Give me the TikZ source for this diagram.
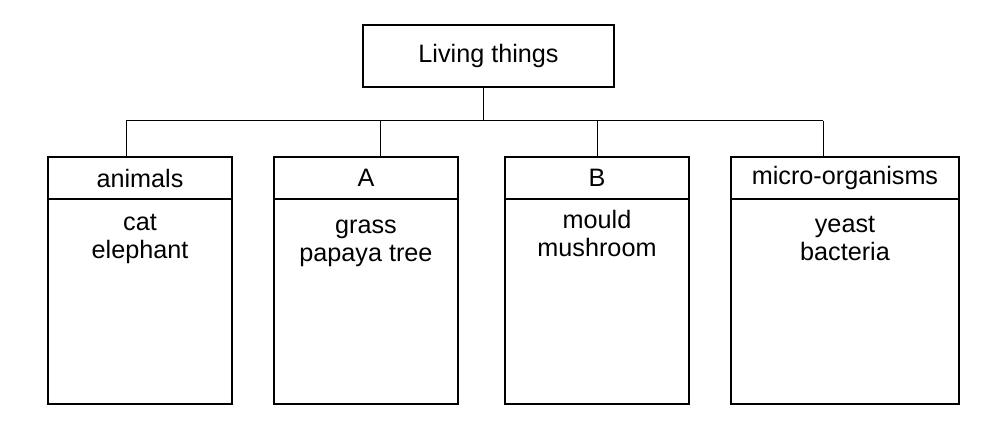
\documentclass[tikz,border=0pt]{standalone}
\usepackage{fontspec}
\setmainfont{Liberation Sans}
\usetikzlibrary{positioning}
\begin{document}
\begin{tikzpicture}[x=0.75pt,y=-0.75pt,
	box/.style={draw,rectangle,line width=1.1pt,inner sep=0pt,outer sep=0pt,font=\fontsize{18.9}{21.4}\selectfont},
	head/.style={box,minimum height=31.5pt},
	body/.style={box,minimum height=153.75pt,anchor=north},
	items/.style={align=center,anchor=base,inner sep=0pt,font=\fontsize{18.9}{21.4}\selectfont},
	link/.style={line width=0.75pt}]
	\useasboundingbox (0,0) rectangle (985,428);
	\node[box,minimum width=188.25pt,minimum height=46.5pt] (living) at (488.5,56) {Living things};
	\node[head,minimum width=138pt] (animals) at (140,178) {animals};
	\node[head,minimum width=138pt] (A) at (366,178) {A};
	\node[head,minimum width=138pt] (B) at (597,178) {B};
	\node[head,minimum width=171pt] (micro) at (845,178) {micro-organisms};
	\node[body,minimum width=138pt] (animalsbody) at (animals.south) {};
	\node[body,minimum width=138pt] (Abody) at (A.south) {};
	\node[body,minimum width=138pt] (Bbody) at (B.south) {};
	\node[body,minimum width=171pt] (microbody) at (micro.south) {};
	\node[items] (animalslist) at ([yshift=-44.65pt]animalsbody.north) {cat\\elephant};
	\node[items] (Alist) at ([yshift=-46.9pt]Abody.north) {grass\\papaya tree};
	\node[items] (Blist) at ([yshift=-43.15pt]Bbody.north) {mould\\mushroom};
	\node[items] (microlist) at ([yshift=-46.15pt]microbody.north) {yeast\\bacteria};
	% tree lines
	\coordinate (bus) at (483,120.5);
	\coordinate (drop1) at (126,120.5);
	\coordinate (drop2) at (380,120.5);
	\coordinate (drop3) at (597,120.5);
	\coordinate (drop4) at (823,120.5);
	\draw[link] (bus |- living.south) -- (bus);
	\draw[link] (drop1) -- (drop4);
	\draw[link] (drop1) -- (drop1 |- animals.north);
	\draw[link] (drop2) -- (drop2 |- A.north);
	\draw[link] (drop3) -- (drop3 |- B.north);
	\draw[link] (drop4) -- (drop4 |- micro.north);
\end{tikzpicture}
\end{document}
